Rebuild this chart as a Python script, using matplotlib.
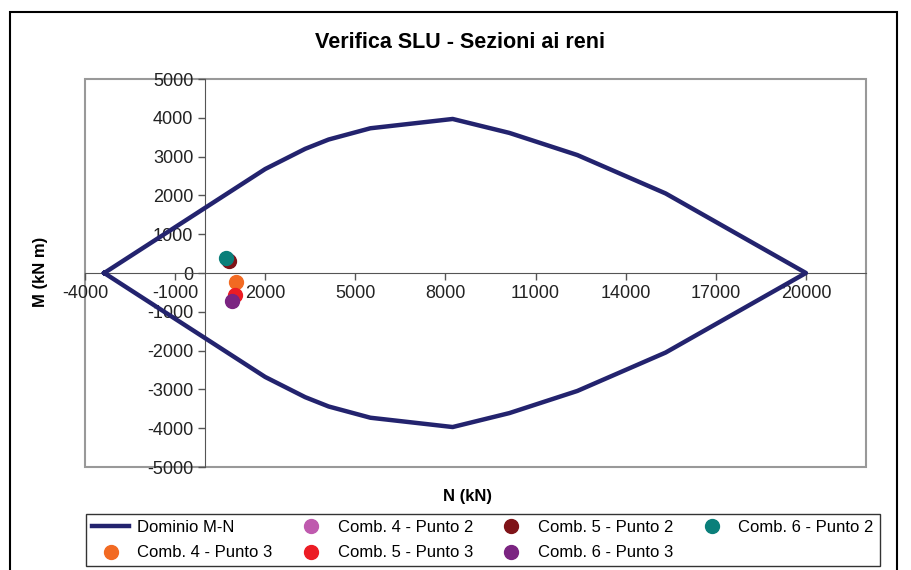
import numpy as np
import matplotlib
matplotlib.use("Agg")
import matplotlib.pyplot as plt
from matplotlib.patches import Rectangle

plt.rcParams['font.family'] = ['Liberation Sans', 'DejaVu Sans']
plt.rcParams['axes.unicode_minus'] = False

# dominio M-N (ramo superiore e inferiore)
N_dom = [-3360, 2000, 3330, 4110, 5500, 8240, 10130, 12390, 15330, 20000,
         15330, 12390, 10130, 8240, 5500, 4110, 3330, 2000, -3360]
M_dom = [0, 2680, 3200, 3440, 3730, 3970, 3610, 3040, 2050, 0,
         -2050, -3040, -3610, -3970, -3730, -3440, -3200, -2680, 0]

# punti di verifica
labels = ["Comb. 4 - Punto 2", "Comb. 5 - Punto 2", "Comb. 6 - Punto 2",
          "Comb. 4 - Punto 3", "Comb. 5 - Punto 3", "Comb. 6 - Punto 3"]
N_pt = [770, 810, 700, 1020, 980, 910]
M_pt = [330, 300, 380, -220, -570, -730]
colori = ["#BF5AAE", "#7F1318", "#0A7F7A", "#F26A22", "#EC1C24", "#7B2481"]

xticks = [-4000, -1000, 2000, 5000, 8000, 11000, 14000, 17000, 20000]
yticks = [-5000, -4000, -3000, -2000, -1000, 0, 1000, 2000, 3000, 4000, 5000]

fig = plt.figure(figsize=(9.11, 5.70), dpi=100)
ax = fig.add_axes([85/911, 1 - 467/570, (866 - 85)/911, (467 - 79)/570])

h_dom, = ax.plot(N_dom, M_dom, color="#23236E", lw=3.2, label="Dominio M-N", zorder=3)
handles = []
for n, m, c, lab in zip(N_pt, M_pt, colori, labels):
    h, = ax.plot([n], [m], 'o', color=c, ms=10, label=lab, zorder=4, linestyle='none')
    handles.append(h)

ax.set_xlim(-4000, 22000)
ax.set_ylim(-5000, 5000)
ax.set_xticks(xticks)
ax.set_yticks(yticks)
ax.tick_params(labelsize=13, colors="#222222", length=5, width=1, direction='out')
ax.tick_params(axis='both', color="#555555")

ax.spines['left'].set_position(('data', 0))
ax.spines['bottom'].set_position(('data', 0))
ax.spines['top'].set_visible(False)
ax.spines['right'].set_visible(False)
ax.spines['left'].set_color("#555555")
ax.spines['bottom'].set_color("#555555")
ax.add_patch(Rectangle((0, 0), 1, 1, transform=ax.transAxes, fill=False,
                       edgecolor="#999999", lw=1.5, clip_on=False, zorder=1))

fig.text(460/911, 1 - 42/570, "Verifica SLU - Sezioni ai reni", ha='center', va='center',
         fontsize=15.5, fontweight='bold')
fig.text(467/911, 1 - 497/570, "N (kN)", ha='center', va='center', fontsize=12, fontweight='bold')
fig.text(40/911, 1 - 272/570, "M (kN m)", ha='center', va='center', rotation=90,
         fontsize=12, fontweight='bold')

# ordine per avere le righe come nel grafico originale
ordine = [h_dom, handles[3], handles[0], handles[4], handles[1], handles[5], handles[2]]
leg = fig.legend(handles=ordine, labels=[h.get_label() for h in ordine], ncol=4,
                 loc='center', bbox_to_anchor=(483/911, 1 - 540/570), fontsize=12,
                 frameon=True, fancybox=False, edgecolor='black', handlelength=2.2,
                 columnspacing=1.2, handletextpad=0.5, borderpad=0.35, labelspacing=0.65)
leg.get_frame().set_linewidth(1)

# cornice esterna del grafico
fig.patches.append(Rectangle((10/911, -0.1), (897 - 10)/911, 1 - 12/570 + 0.1,
                             transform=fig.transFigure, fill=False, edgecolor='black', lw=1.5))

fig.savefig("out.png", dpi=100)
